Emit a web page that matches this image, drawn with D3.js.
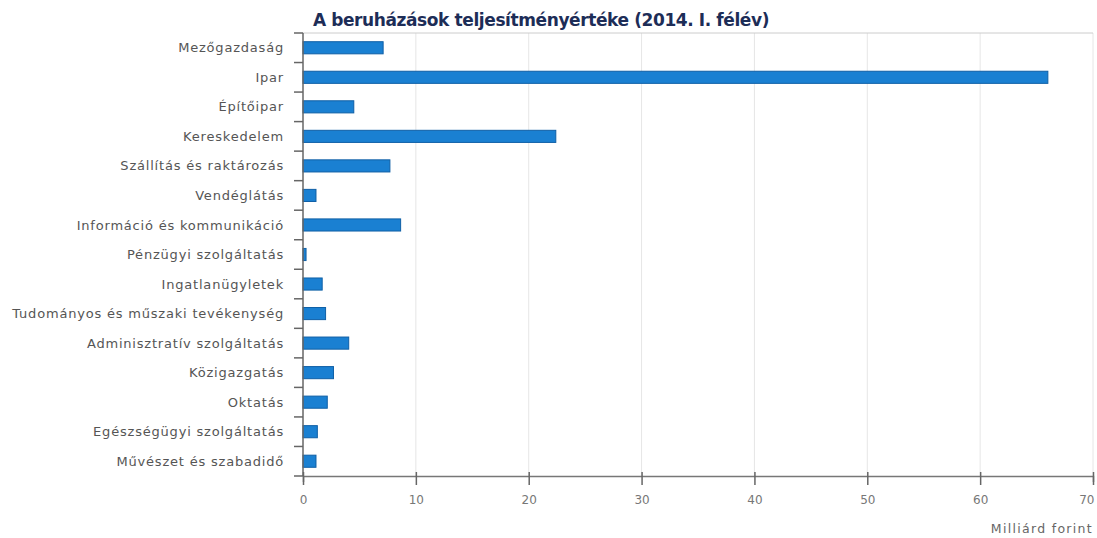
<!DOCTYPE html>
<html><head><meta charset="utf-8">
<script src="https://cdn.jsdelivr.net/npm/d3@7"></script>
<style>body{margin:0;background:#fff;font-family:"DejaVu Sans",sans-serif;}</style>
</head><body><svg id="c" width="1097" height="538"></svg>
<script>
const categories = ["Mezőgazdaság","Ipar","Építőipar","Kereskedelem","Szállítás és raktározás","Vendéglátás","Információ és kommunikáció","Pénzügyi szolgáltatás","Ingatlanügyletek","Tudományos és műszaki tevékenység","Adminisztratív szolgáltatás","Közigazgatás","Oktatás","Egészségügyi szolgáltatás","Művészet és szabadidő"];
const values = [7.1, 66.0, 4.5, 22.4, 7.7, 1.15, 8.65, 0.27, 1.7, 2.0, 4.05, 2.7, 2.15, 1.27, 1.15];
const xTicks = [0,10,20,30,40,50,60,70];
const title = "A beruházások teljesítményértéke (2014. I. félév)";
const xTitle = "Milliárd forint";

const svg = d3.select("#c");
const m = {l:303, r:1093, t:33, b:476};
const x = d3.scaleLinear().domain([0,70]).range([m.l, m.r]);
const y = d3.scaleBand().domain(categories).range([m.t, m.b]).paddingInner(0.59).paddingOuter(0.295);

// grid
svg.append("g").selectAll("line").data(xTicks.slice(1)).join("line")
  .attr("x1",d=>x(d)).attr("x2",d=>x(d)).attr("y1",m.t).attr("y2",m.b)
  .attr("stroke","#e6e6e6").attr("stroke-width",1);
svg.append("line").attr("x1",m.l).attr("x2",m.r).attr("y1",m.t).attr("y2",m.t).attr("stroke","#ccc");

// bars
svg.append("g").selectAll("rect").data(values).join("rect")
  .attr("x",x(0)).attr("y",(d,i)=>y(categories[i]))
  .attr("width",d=>x(d)-x(0)).attr("height",y.bandwidth())
  .attr("fill","#1a80d2").attr("stroke","#0f5fa6").attr("stroke-width",1);

// y axis
const yAxisG = svg.append("g");
yAxisG.append("line").attr("x1",m.l).attr("x2",m.l).attr("y1",m.t).attr("y2",m.b).attr("stroke","#666").attr("stroke-width",1.5);
const bounds = d3.range(categories.length+1).map(i=>m.t + i*(m.b-m.t)/categories.length);
yAxisG.selectAll("line.t").data(bounds).join("line").attr("class","t")
  .attr("x1",m.l-9).attr("x2",m.l).attr("y1",d=>d).attr("y2",d=>d).attr("stroke","#666").attr("stroke-width",1.5);
yAxisG.selectAll("text").data(categories).join("text")
  .attr("x",284).attr("y",d=>y(d)+y.bandwidth()/2).attr("dy","0.35em")
  .attr("text-anchor","end").attr("fill","#555").attr("font-size",13)
  .attr("font-family","DejaVu Sans, sans-serif")
  .attr("letter-spacing","0.8px").text(d=>d);

// x axis
const xAxis = svg.append("g").attr("transform",`translate(0,${m.b})`)
  .call(d3.axisBottom(x).tickValues(xTicks).tickSize(6).tickPadding(13));
xAxis.select(".domain").attr("stroke","#777").attr("stroke-width",1.5);
xAxis.selectAll(".tick line").attr("stroke","#666").attr("stroke-width",1.5).attr("y1",-4).attr("y2",9);
xAxis.selectAll("text").attr("fill","#777").attr("font-size",12).attr("font-family","DejaVu Sans, sans-serif");
xAxis.selectAll(".tick text").filter(d=>d===70).attr("text-anchor","end").attr("dx","1px");

svg.append("text").attr("x",1093).attr("y",533).attr("text-anchor","end")
  .attr("fill","#666").attr("font-size",12.5).attr("font-family","DejaVu Sans, sans-serif")
  .attr("letter-spacing","1.3px").text(xTitle);

svg.append("text").attr("x",541).attr("y",26).attr("text-anchor","middle")
  .attr("fill","#1d2d57").attr("font-size",17).attr("font-weight","bold")
  .attr("font-family","DejaVu Sans, sans-serif").attr("letter-spacing","-0.4px").text(title);
</script></body></html>
